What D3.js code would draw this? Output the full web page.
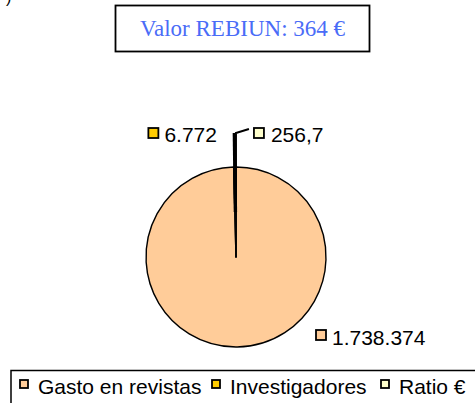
<!DOCTYPE html>
<html>
<head>
<meta charset="utf-8">
<script src="https://cdn.jsdelivr.net/npm/d3@7"></script>
<style>
  body { margin: 0; background: #fff; }
  svg { display: block; }
</style>
</head>
<body>
<svg id="chart"></svg>
<script>
/*
    DATA
*/
var categories = ["Gasto en revistas", "Investigadores", "Ratio €"];
var values = [1738374, 6772, 256.7];
var labels = ["1.738.374", "6.772", "256,7"];
var colors = ["#FFCC99", "#FFCC00", "#FFFFCC"];
var titleText = "Valor REBIUN: 364 €";

/*
    LAYOUT
*/
var width = 475, height = 403;
var cx = 236, cy = 257, r = 90;
var sans = "'Liberation Sans', Arial, sans-serif";

var svg = d3.select("#chart")
    .attr("width", width)
    .attr("height", height);

// cut-off mark in the top-left corner (clipped in the original too)
svg.append("text")
    .attr("x", 6).attr("y", 3)
    .attr("font-family", sans).attr("font-size", 16)
    .text(")");

// title box
svg.append("rect")
    .attr("x", 115.5).attr("y", 5.5)
    .attr("width", 254).attr("height", 46)
    .attr("fill", "#fff").attr("stroke", "#000").attr("stroke-width", 1.8);

svg.append("text")
    .attr("x", 242.5).attr("y", 36)
    .attr("text-anchor", "middle")
    .attr("font-family", "'Liberation Serif', 'Times New Roman', serif")
    .attr("font-size", 23)
    .attr("fill", "#4A6CF7")
    .text(titleText);

/*
    PIE
*/
var pie = d3.pie().sort(null).startAngle(0).endAngle(2 * Math.PI);
var arcs = pie(values);

var arc = d3.arc().innerRadius(0).outerRadius(r);

var g = svg.append("g").attr("transform", "translate(" + cx + "," + cy + ")");

g.selectAll("path.slice")
    .data(arcs)
    .enter().append("path")
    .attr("class", "slice")
    .attr("d", arc)
    .attr("fill", function(d, i) { return colors[i]; })
    .attr("stroke", "#000")
    .attr("stroke-width", 1.4)
    .attr("stroke-linejoin", "round");

// leader lines for the two tiny slices
var leaderTop = r + 34;
function polar(a, rad) { return [Math.sin(a) * rad, -Math.cos(a) * rad]; }

[1, 2].forEach(function(i) {
  var d = arcs[i];
  var mid = (d.startAngle + d.endAngle) / 2;
  var c = arc.centroid(d);
  var top = polar(mid, leaderTop);
  var pts = [c, top];
  if (i == 2) pts.push([top[0] + 13, top[1] - 4]);
  g.append("path")
    .attr("d", d3.line()(pts))
    .attr("fill", "none")
    .attr("stroke", "#000")
    .attr("stroke-width", i == 2 ? 2 : 3.4);
});

function keyBox(parent, x, y, size, color) {
  parent.append("rect")
    .attr("x", x).attr("y", y)
    .attr("width", size).attr("height", size)
    .attr("fill", color)
    .attr("stroke", "#000").attr("stroke-width", 1.8);
}

// data labels
var lblFont = 21;
var p1 = polar((arcs[1].startAngle + arcs[1].endAngle) / 2, leaderTop);
keyBox(g, p1[0] - 86, p1[1] - 5, 10, colors[1]);
g.append("text")
  .attr("x", p1[0] - 70).attr("y", p1[1] + 9)
  .attr("font-family", sans).attr("font-size", lblFont)
  .text(labels[1]);

var p2 = polar((arcs[2].startAngle + arcs[2].endAngle) / 2, leaderTop);
keyBox(g, p2[0] + 18, p2[1] - 5, 10, colors[2]);
g.append("text")
  .attr("x", p2[0] + 35).attr("y", p2[1] + 9)
  .attr("font-family", sans).attr("font-size", lblFont)
  .text(labels[2]);

keyBox(g, 80, 73, 10, colors[0]);
g.append("text")
  .attr("x", 96).attr("y", 88)
  .attr("font-family", sans).attr("font-size", lblFont)
  .text(labels[0]);

/*
    LEGEND
*/
svg.append("rect")
    .attr("x", 11).attr("y", 370.5)
    .attr("width", 500).attr("height", 60)
    .attr("fill", "none").attr("stroke", "#000").attr("stroke-width", 1.5);

var legendX = [20, 212, 381];
categories.forEach(function(c, i) {
  keyBox(svg, legendX[i], 380, 8, colors[i]);
  svg.append("text")
    .attr("x", legendX[i] + 18).attr("y", 394)
    .attr("font-family", sans).attr("font-size", 21)
    .text(c);
});
</script>
</body>
</html>
